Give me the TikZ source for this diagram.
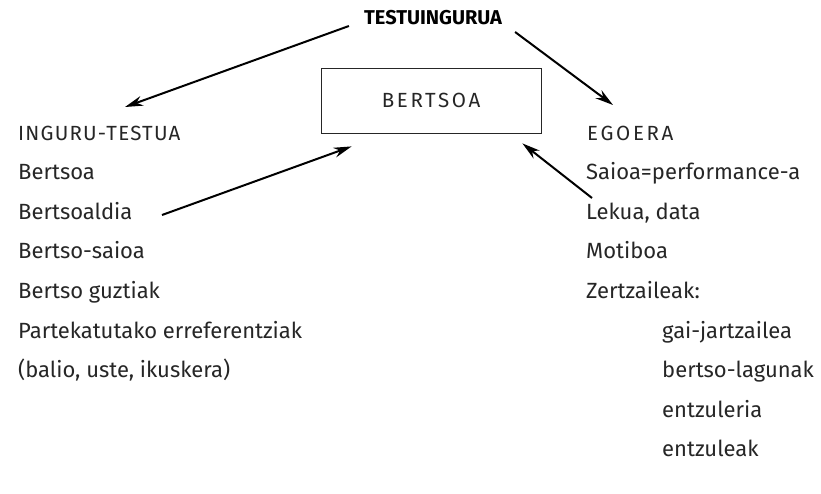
\documentclass[tikz,border=0pt]{standalone}
\usepackage{fontspec}
\setmainfont{Fira Sans}
\newfontfamily\capsfont[LetterSpace=6]{Fira Sans}
\newfontfamily\widecapsfont[LetterSpace=13]{Fira Sans}
\usetikzlibrary{arrows.meta}
\definecolor{ink}{HTML}{262626}
\begin{document}
\begin{tikzpicture}[x=1pt,y=-1pt,
  lbl/.style={anchor=base west, inner sep=0pt, text=ink, font=\fontsize{22}{22}\selectfont},
  capslbl/.style={anchor=base west, inner sep=0pt, text=ink, font=\capsfont\fontsize{20.5}{20.5}\selectfont},
  widecaps/.style={anchor=base west, inner sep=0pt, text=ink, font=\widecapsfont\fontsize{20.5}{20.5}\selectfont},
  ttl/.style={inner sep=0pt, text=black, font=\bfseries\fontsize{20}{20}\selectfont},
  boxed/.style={draw=ink, line width=0.8pt, minimum width=220pt, minimum height=65pt, inner sep=0pt, text=ink, font=\widecapsfont\fontsize{20.5}{20.5}\selectfont},
  arr/.style={line width=2pt, black, -{Stealth[length=18pt,width=10pt]}}]
\useasboundingbox (0,0) rectangle (821,493);

\node[ttl] (title) at (433,18) {TESTUINGURUA};
\node[boxed] (bx) at (431,100.5) {BERTSOA};

\node[capslbl] (ingr) at (18,140) {INGURU-TESTUA};
\node[lbl] (l1) at (18,179) {Bertsoa};
\node[lbl] (l2) at (18,219) {Bertsoaldia};
\node[lbl] (l3) at (18,258) {Bertso-saioa};
\node[lbl] (l4) at (18,298) {Bertso guztiak};
\node[lbl] (l5) at (18,338) {Partekatutako erreferentziak};
\node[lbl] (l6) at (18,377) {(balio, uste, ikuskera)};

\node[widecaps] (egoera) at (587,140) {EGOERA};
\node[lbl] (r1) at (586,179) {Saioa=performance-a};
\node[lbl] (r2) at (586,219) {Lekua, data};
\node[lbl] (r3) at (586,258) {Motiboa};
\node[lbl] (r4) at (586,298) {Zertzaileak:};
\node[lbl] (r5) at (662,338) {gai-jartzailea};
\node[lbl] (r6) at (662,377) {bertso-lagunak};
\node[lbl] (r7) at (662,417) {entzuleria};
\node[lbl] (r8) at (662,456) {entzuleak};

\draw[arr] ([shift={(-15,8)}]title.west) -- ([shift={(107,-33)}]ingr.base west);
\draw[arr] ([shift={(13,14)}]title.east) -- ([shift={(26,-35)}]egoera.base west);
\draw[arr] ([shift={(144,-4)}]l2.base west) -- ([shift={(31,13)}]bx.south west);
\draw[arr] ([shift={(6,-21)}]r2.base west) -- ([shift={(-19,10)}]bx.south east);
\end{tikzpicture}
\end{document}
